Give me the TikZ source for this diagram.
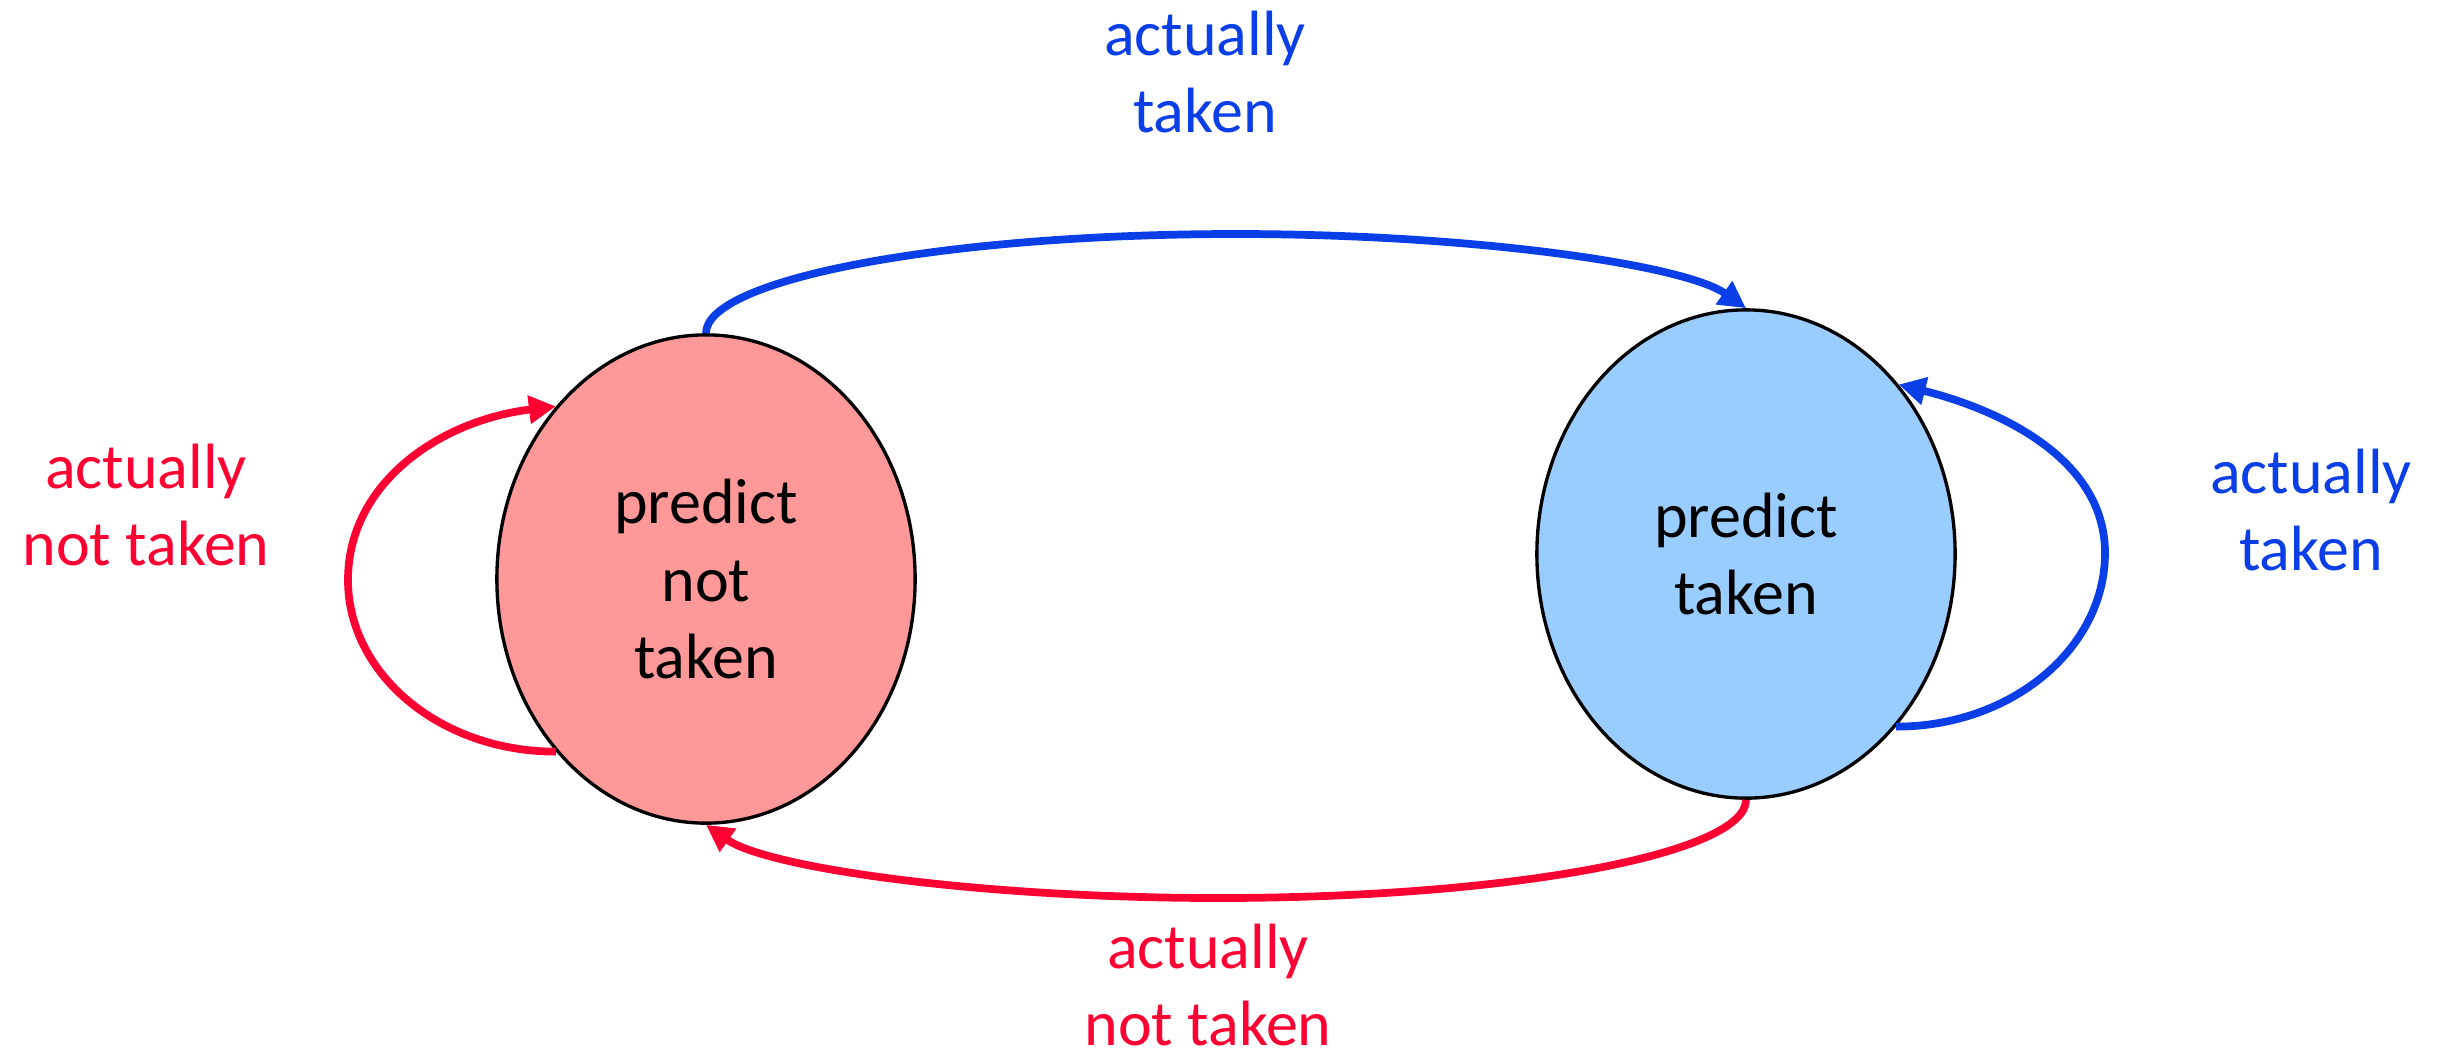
\documentclass[tikz,border=0pt]{standalone}
\usepackage{fontspec}
\setmainfont{Carlito}
\usetikzlibrary{arrows.meta,shapes.geometric}
\definecolor{arred}{RGB}{255,0,51}
\definecolor{arblue}{RGB}{10,62,230}
\definecolor{pinkfill}{RGB}{255,153,153}
\definecolor{bluefill}{RGB}{153,204,255}
\begin{document}
\begin{tikzpicture}[x=0.01cm,y=-0.01cm,
  state/.style={ellipse, draw=black, line width=0.95pt, minimum width=4.18cm, minimum height=4.88cm, inner sep=0pt, align=center, font=\fontsize{18.2}{22.1}\selectfont},
  lbl/.style={align=center, inner sep=0pt, font=\fontsize{18.2}{22.1}\selectfont},
  conn/.style={line width=2.2pt, -{Triangle[length=0.27cm,width=0.27cm]}}
]
\useasboundingbox (0,0) rectangle (2445,1060);
\node[state, fill=pinkfill] (L) at (706,579) {predict\\not\\taken};
\node[state, fill=bluefill] (R) at (1746,554) {predict\\taken};

\node[lbl, text=arblue] (lt) at (1205,72) {actually\\taken};
\node[lbl, text=arred] (ll) at (146,505) {actually\\not taken};
\node[lbl, text=arblue] (lr) at (2311,510) {actually\\taken};
\node[lbl, text=arred] (lb) at (1208,985) {actually\\not taken};

\coordinate (tm) at (1236,234);
\coordinate (bm) at (1218,898);
\coordinate (lw) at (348,580);
\coordinate (re) at (2105,553);

\draw[conn, arblue] (L.north) .. controls +(0,-54) and +(-292,0) .. (tm)
  .. controls +(240,0) and +(-61,-43) .. (R.north);
\draw[conn, arred] (R.south) .. controls +(0,54) and +(292,0) .. (bm)
  .. controls +(-240,0) and +(61,43) .. (L.south);
\draw[conn, arred] (L.229) .. controls +(-116,0) and +(0,94) .. (lw)
  .. controls +(0,-97) and +(-116,14) .. (L.131);
\draw[conn, arblue] (R.311.5) .. controls +(116,0) and +(0,95) .. (re)
  .. controls +(0,-95) and +(100,25) .. (R.48);
\end{tikzpicture}
\end{document}
